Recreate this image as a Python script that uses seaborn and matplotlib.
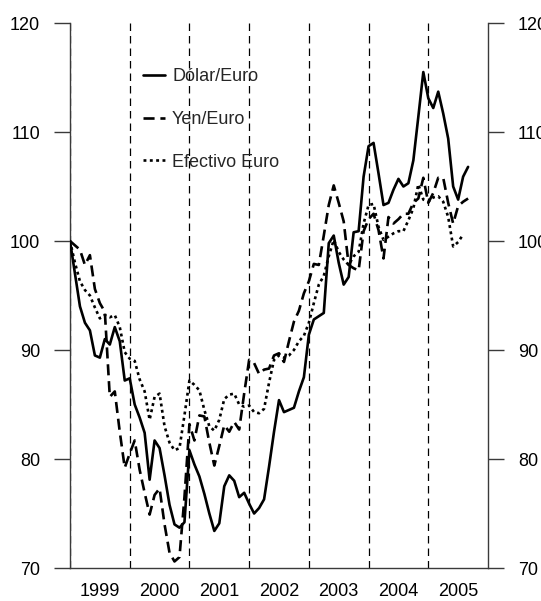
import numpy as np
import pandas as pd
import matplotlib
matplotlib.use("Agg")
import matplotlib.pyplot as plt
import seaborn as sns

# ---- data (monthly index, Jan 1999 = 100) ----
start_year = 1999
dolar_euro = [100.0, 97.0, 94.0, 92.5, 91.8, 89.5, 89.3, 91.0, 90.5, 92.1,
              90.8, 87.2, 87.4, 85.0, 83.8, 82.4, 78.1, 81.7, 81.0, 78.5,
              75.8, 74.0, 73.7, 74.2, 80.8, 79.5, 78.4, 76.8, 75.0, 73.4,
              74.1, 77.5, 78.5, 78.0, 76.5, 76.9, 75.9, 75.0, 75.5, 76.3,
              79.3, 82.5, 85.4, 84.3, 84.5, 84.7, 86.2, 87.5, 91.4, 92.8,
              93.1, 93.4, 99.8, 100.5, 98.0, 96.0, 96.7, 100.8, 100.9, 105.9,
              108.7, 109.0, 106.2, 103.3, 103.5, 104.7, 105.7, 105.0, 105.3, 107.4,
              111.4, 115.5, 113.1, 112.2, 113.7, 111.7, 109.4, 105.0, 103.8, 105.9,
              106.8]
yen_euro = [100.0, 99.6, 99.2, 97.8, 98.7, 95.6, 94.3, 93.5, 85.7, 86.2,
            82.5, 79.2, 80.5, 81.7, 79.0, 76.9, 74.9, 76.7, 77.3, 74.0,
            71.4, 70.6, 71.0, 76.5, 83.2, 81.7, 84.0, 83.9, 81.5, 79.4,
            81.2, 83.1, 82.5, 83.4, 82.7, 86.0, 89.1, 88.8, 87.8, 88.2,
            88.3, 89.5, 89.7, 88.9, 90.8, 92.6, 93.6, 95.2, 96.3, 97.9,
            97.8, 100.5, 103.3, 105.1, 103.5, 101.8, 97.8, 97.5, 97.3, 100.9,
            102.0, 102.5, 101.0, 98.4, 102.2, 101.6, 102.0, 102.5, 102.5, 103.5,
            103.9, 105.8, 103.5, 104.4, 105.8, 105.8, 103.5, 101.6, 103.2, 103.6,
            103.9]
efectivo_euro = [100.0, 98.0, 96.3, 95.5, 95.0, 93.9, 92.9, 93.2, 93.0, 93.2,
                 92.1, 89.8, 89.2, 89.0, 87.3, 86.2, 83.6, 85.7, 86.0, 83.0,
                 81.5, 80.8, 81.0, 84.0, 87.2, 86.8, 86.3, 84.5, 83.0, 82.6,
                 83.6, 85.5, 85.9, 86.0, 85.0, 84.8, 84.9, 84.3, 84.2, 84.6,
                 87.0, 89.1, 89.5, 89.3, 89.5, 90.0, 90.8, 91.3, 92.5, 94.3,
                 96.0, 96.8, 98.6, 100.1, 99.0, 98.3, 97.8, 98.6, 99.0, 101.6,
                 103.3, 103.4, 101.3, 100.1, 100.4, 100.7, 100.9, 100.9, 101.9, 103.0,
                 105.2, 103.8, 103.6, 104.0, 104.1, 103.6, 102.2, 99.5, 99.9, 100.6,
                 np.nan]
series_names = ["Dólar/Euro", "Yen/Euro", "Efectivo Euro"]
year_labels = ["1999", "2000", "2001", "2002", "2003", "2004", "2005"]
y_ticks = [70, 80, 90, 100, 110, 120]

n = len(dolar_euro)
t = start_year + np.arange(n) / 12.0
df = pd.DataFrame({"t": t, series_names[0]: dolar_euro,
                   series_names[1]: yen_euro, series_names[2]: efectivo_euro})

sns.set_style("white")
plt.rcParams["font.family"] = ["Liberation Sans", "DejaVu Sans"]

fig = plt.figure(figsize=(5.41, 6.01), dpi=100)
ax = fig.add_axes([70 / 541, 33 / 601, 418 / 541, 545 / 601])

axis_col = "#3a3a3a"
# year separators
for i in range(len(year_labels)):
    ax.axvline(start_year + i, color="black", lw=0.9, dashes=(6, 4), zorder=1)

styles = {"Dólar/Euro": dict(linestyle="-"),
          "Yen/Euro": dict(dashes=(4.2, 2.2)),
          "Efectivo Euro": dict(dashes=(1.1, 1.3))}
for name in series_names:
    sns.lineplot(data=df, x="t", y=name, ax=ax, color="black", lw=1.9,
                 label=name, zorder=3, **styles[name])

ax.set_xlim(start_year, start_year + 7)
ax.set_ylim(70, 120)
ax.set_yticks(y_ticks)
ax.set_yticklabels([str(v) for v in y_ticks])
ax.set_xticks([start_year + i + 0.5 for i in range(len(year_labels))])
ax.set_xticklabels(year_labels)
ax.set_xlabel("")
ax.set_ylabel("")

for s in ["top"]:
    ax.spines[s].set_visible(False)
for s in ["left", "right", "bottom"]:
    ax.spines[s].set_visible(True)
    ax.spines[s].set_color(axis_col)
    ax.spines[s].set_linewidth(1.0)

ax.tick_params(axis="y", which="both", left=True, right=True, labelleft=True,
               labelright=True, direction="out", length=11.5, width=1.0,
               color=axis_col, pad=10, labelsize=13, labelcolor="black")
ax.tick_params(axis="x", length=0, pad=11, labelsize=13, labelcolor="black")

leg = ax.legend(loc="upper left", bbox_to_anchor=(0.175, 0.917), frameon=False,
                fontsize=13, handlelength=1.2, handletextpad=0.4,
                labelspacing=1.42, borderaxespad=0, borderpad=0)

fig.savefig("out.png", dpi=100, facecolor="white")
